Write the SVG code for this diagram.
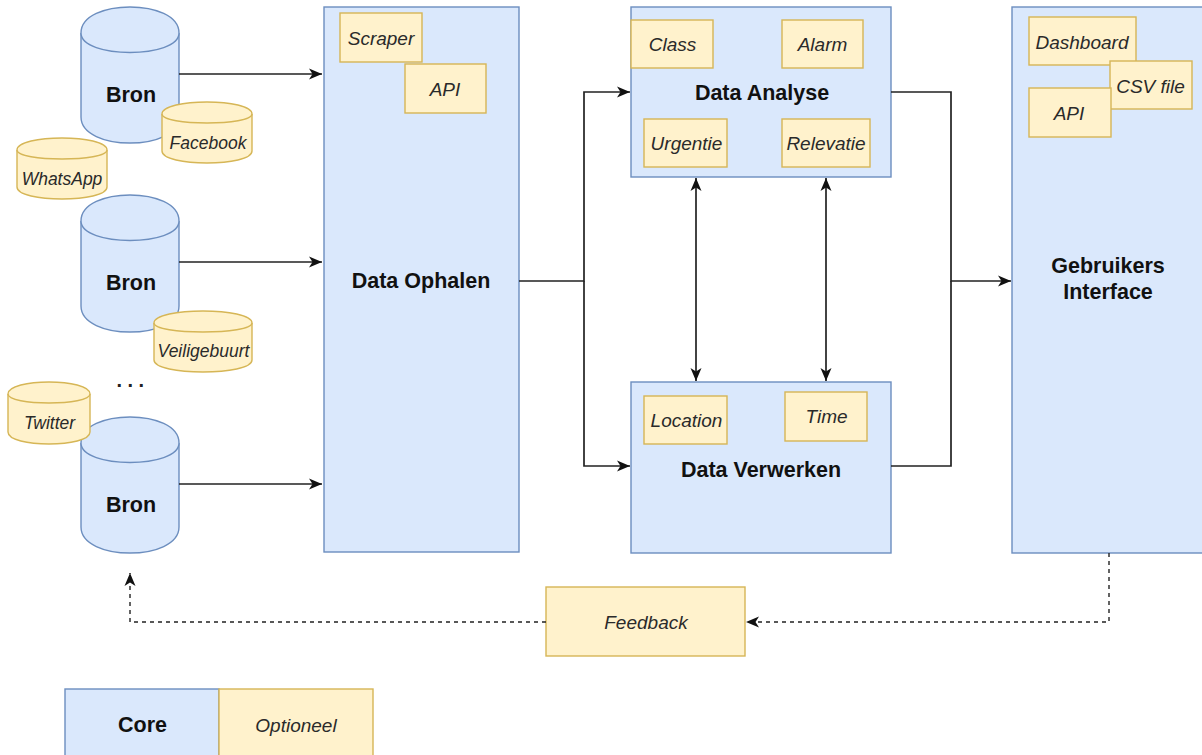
<svg xmlns="http://www.w3.org/2000/svg" width="1202" height="755" viewBox="0 0 1202 755">
  <style>
    .core { fill: #dae8fc; stroke: #6c8ebf; stroke-width: 1.4; }
    .opt { fill: #fff2cc; stroke: #d6b656; stroke-width: 1.4; }
    .bold { font-family: "Liberation Sans", Arial, sans-serif; font-weight: bold; font-size: 21.5px; fill: #111; text-anchor: middle; dominant-baseline: central; }
    .it { font-family: "Liberation Sans", Arial, sans-serif; font-style: italic; font-size: 19px; fill: #2a2a2a; text-anchor: middle; dominant-baseline: central; }
    .itsm { font-size: 17.5px; }
    .edge { fill: none; stroke: #222; stroke-width: 1.7; }
    .dash { fill: none; stroke: #222; stroke-width: 1.4; stroke-dasharray: 4 4; }
  </style>
  <defs>
    <marker id="arrow" markerUnits="userSpaceOnUse" markerWidth="14" markerHeight="12" refX="13" refY="6" orient="auto-start-reverse">
      <path d="M0,0.5 L13,6 L0,11.5 L3.5,6 Z" fill="#111"/>
    </marker>
  </defs>

  <!-- Data sources -->
  <g id="bron1">
    <path class="core" d="M81,33 C81,-1.7 179,-1.7 179,33 L179,117 C179,151.7 81,151.7 81,117 Z"/>
    <path class="core" fill="none" d="M81,33 C81,59 179,59 179,33"/>
    <text class="bold" x="131" y="95">Bron</text>
  </g>
  <g id="bron2">
    <path class="core" d="M81,221 C81,186.3 179,186.3 179,221 L179,306 C179,340.7 81,340.7 81,306 Z"/>
    <path class="core" fill="none" d="M81,221 C81,247 179,247 179,221"/>
    <text class="bold" x="131" y="283">Bron</text>
  </g>
  <g id="bron3">
    <path class="core" d="M81,443 C81,408.3 179,408.3 179,443 L179,527 C179,561.7 81,561.7 81,527 Z"/>
    <path class="core" fill="none" d="M81,443 C81,469 179,469 179,443"/>
    <text class="bold" x="131" y="505">Bron</text>
  </g>

  <g id="facebook">
    <path class="opt" d="M162,114 C162,98 252,98 252,114 L252,151 C252,167 162,167 162,151 Z"/>
    <path class="opt" fill="none" d="M162,114 C162,126 252,126 252,114"/>
    <text class="it itsm" x="208" y="142.5">Facebook</text>
  </g>
  <g id="whatsapp">
    <path class="opt" d="M17,150 C17,134 107,134 107,150 L107,187 C107,203 17,203 17,187 Z"/>
    <path class="opt" fill="none" d="M17,150 C17,162 107,162 107,150"/>
    <text class="it itsm" x="62" y="179">WhatsApp</text>
  </g>
  <g id="veiligebuurt">
    <path class="opt" d="M154,323 C154,307 252,307 252,323 L252,360 C252,376 154,376 154,360 Z"/>
    <path class="opt" fill="none" d="M154,323 C154,335 252,335 252,323"/>
    <text class="it itsm" x="203.5" y="351">Veiligebuurt</text>
  </g>
  <g id="twitter">
    <path class="opt" d="M8,394 C8,378 90,378 90,394 L90,432 C90,448 8,448 8,432 Z"/>
    <path class="opt" fill="none" d="M8,394 C8,406 90,406 90,394"/>
    <text class="it itsm" x="49.5" y="423">Twitter</text>
  </g>
  <g id="more-sources">
    <text x="133" y="387" font-family="Liberation Sans, Arial, sans-serif" font-weight="bold" font-size="20" fill="#222" text-anchor="middle" letter-spacing="5.5">...</text>
  </g>

  <!-- Processing stages -->
  <g id="data-ophalen">
    <rect class="core" x="324" y="7" width="195" height="545"/>
    <text class="bold" x="421" y="280.5">Data Ophalen</text>
    <rect class="opt" x="340" y="13" width="82" height="49"/>
    <text class="it" x="381" y="38">Scraper</text>
    <rect class="opt" x="405" y="64" width="81" height="49"/>
    <text class="it" x="445" y="89">API</text>
  </g>

  <g id="data-analyse">
    <rect class="core" x="631" y="7" width="260" height="170"/>
    <text class="bold" x="762" y="93">Data Analyse</text>
    <rect class="opt" x="631" y="20" width="82" height="48"/>
    <text class="it" x="672.5" y="44">Class</text>
    <rect class="opt" x="782" y="20" width="81" height="48"/>
    <text class="it" x="822.5" y="44">Alarm</text>
    <rect class="opt" x="644" y="119" width="83" height="48"/>
    <text class="it" x="686.5" y="143">Urgentie</text>
    <rect class="opt" x="782" y="119" width="88" height="48"/>
    <text class="it" x="826" y="143">Relevatie</text>
  </g>

  <g id="data-verwerken">
    <rect class="core" x="631" y="382" width="260" height="171"/>
    <text class="bold" x="761" y="469.5">Data Verwerken</text>
    <rect class="opt" x="644" y="396" width="83" height="48"/>
    <text class="it" x="686.5" y="420.5">Location</text>
    <rect class="opt" x="785" y="392" width="82" height="49"/>
    <text class="it" x="826.5" y="416.5">Time</text>
  </g>

  <g id="gebruikers-interface">
    <rect class="core" x="1012" y="7" width="200" height="546"/>
    <text class="bold" x="1108" y="266">Gebruikers</text>
    <text class="bold" x="1108" y="292">Interface</text>
    <rect class="opt" x="1029" y="17" width="107" height="48"/>
    <text class="it" x="1082" y="42">Dashboard</text>
    <rect class="opt" x="1110" y="61" width="82" height="48"/>
    <text class="it" x="1150.5" y="86.5">CSV file</text>
    <rect class="opt" x="1029" y="88" width="82" height="49"/>
    <text class="it" x="1069" y="113.5">API</text>
  </g>

  <g id="feedback">
    <rect class="opt" x="546" y="587" width="199" height="69"/>
    <text class="it" x="646" y="622" font-size="22.5px">Feedback</text>
  </g>

  <!-- Legend -->
  <g id="legend-core">
    <rect class="core" x="65" y="689" width="154" height="75"/>
    <text class="bold" x="142.5" y="725">Core</text>
  </g>
  <g id="legend-optioneel">
    <rect class="opt" x="219" y="689" width="154" height="75"/>
    <text class="it" x="296" y="725">Optioneel</text>
  </g>

  <!-- Connectors -->
  <g id="connectors">
    <path class="edge" d="M179,74 L322,74" marker-end="url(#arrow)"/>
    <path class="edge" d="M179,262 L322,262" marker-end="url(#arrow)"/>
    <path class="edge" d="M179,484 L322,484" marker-end="url(#arrow)"/>
    <path class="edge" d="M519,281 L584,281 L584,92 L630,92" marker-end="url(#arrow)"/>
    <path class="edge" d="M584,281 L584,466 L630,466" marker-end="url(#arrow)"/>
    <path class="edge" d="M891,92 L951,92 L951,281 L1011,281" marker-end="url(#arrow)"/>
    <path class="edge" d="M891,466 L951,466 L951,281"/>
    <path class="edge" d="M696,178 L696,381" marker-start="url(#arrow)" marker-end="url(#arrow)"/>
    <path class="edge" d="M826,178 L826,381" marker-start="url(#arrow)" marker-end="url(#arrow)"/>
    <path class="dash" d="M1109,553 L1109,622 L746,622" marker-end="url(#arrow)"/>
    <path class="dash" d="M546,622 L130,622 L130,573" marker-end="url(#arrow)"/>
  </g>
</svg>
